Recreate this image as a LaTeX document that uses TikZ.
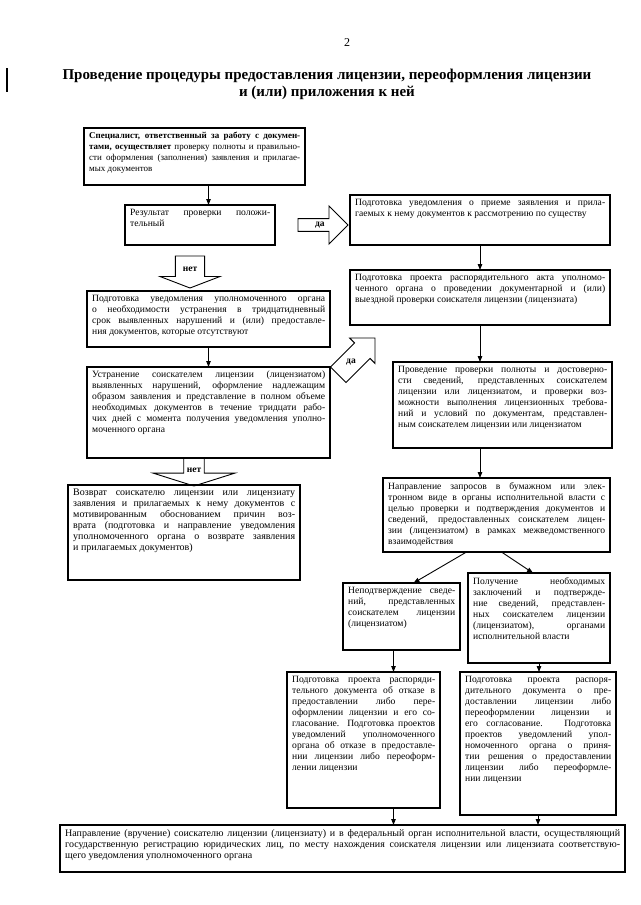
\documentclass[tikz,border=0pt]{standalone}
\usepackage{fontspec}
\setmainfont{Liberation Serif}
\usetikzlibrary{arrows.meta,shapes.arrows}

% box with its text set from the top left corner
\newcommand{\procbox}[6]{%
  \pgfmathsetmacro{\boxtw}{#4-10}%
  \node[box, minimum width=#4, minimum height=#5, anchor=north west] (#1) at (#2,#3) {};
  \node[boxtext, text width=\boxtw pt, anchor=north west] (#1t) at ([shift={(5,4)}]#1.north west) {#6};
}
\newcommand{\boxsmall}{\fontsize{9}{10.6}\selectfont}
\newcommand{\boxlarge}{\fontsize{10}{11.2}\selectfont}

\tikzset{%
  box/.style      = {draw, line width=1.1pt, rectangle, inner sep=0pt, outer sep=0pt},
  boxtext/.style  = {align=justify, inner sep=0pt, font=\fontsize{9.6}{11}\selectfont},
  bigarrow/.style = {single arrow, draw, line width=0.9pt, inner sep=1pt, outer sep=0pt,
                     font=\fontsize{9.5}{10}\selectfont\bfseries},
  bigline/.style  = {draw, line width=0.9pt, line join=miter},
  flow/.style     = {line width=0.9pt, -{Triangle[length=6pt,width=4.5pt]}}
}

\begin{document}
\begin{tikzpicture}[x=1pt, y=-1pt]
\fill[white] (0,0) rectangle (640,905);
\useasboundingbox (0,0) rectangle (640,905);

% Heading
\node[font=\fontsize{12}{14}\selectfont] (pagenum) at (347,43) {2};
\node[align=center, font=\fontsize{15}{17}\selectfont\bfseries] (title) at (327,84)
  {Проведение процедуры предоставления лицензии, переоформления лицензии\\и (или) приложения к ней};
\draw[line width=1.4pt] (7,68) -- (7,92);

% Left column
\procbox{check}{84}{128}{221}{57}{\boxsmall\textbf{Специалист, ответственный за работу с докумен-\linebreak
  тами, осуществляет} проверку полноты и правильно-\linebreak
  сти оформления (заполнения) заявления и прилагае-\linebreak
  мых документов}
\procbox{result}{125}{205}{150}{40}{Результат проверки положи-\linebreak тельный}
\procbox{notice}{87}{291}{243}{56}{Подготовка уведомления уполномоченного органа\linebreak
  о необходимости устранения в тридцатидневный\linebreak
  срок выявленных нарушений и (или) предоставле-\linebreak
  ния документов, которые отсутствуют}
\procbox{fix}{87}{367}{243}{91}{Устранение соискателем лицензии (лицензиатом)\linebreak
  выявленных нарушений, оформление надлежащим\linebreak
  образом заявления и представление в полном объеме\linebreak
  необходимых документов в течение тридцати рабо-\linebreak
  чих дней с момента получения уведомления уполно-\linebreak
  моченного органа}
\procbox{back}{68}{485}{232}{95}{\boxlarge Возврат соискателю лицензии или лицензиату\linebreak
  заявления и прилагаемых к нему документов с\linebreak
  мотивированным обоснованием причин воз-\linebreak
  врата (подготовка и направление уведомления\linebreak
  уполномоченного органа о возврате заявления\linebreak
  и прилагаемых документов)}

% Right column
\procbox{accept}{350}{195}{260}{50}{Подготовка уведомления о приеме заявления и прила-\linebreak
  гаемых к нему документов к рассмотрению по существу}
\procbox{order}{350}{270}{260}{55}{Подготовка проекта распорядительного акта уполномо-\linebreak
  ченного органа о проведении документарной и (или)\linebreak
  выездной проверки соискателя лицензии (лицензиата)}
\procbox{verify}{393}{362}{219}{86}{Проведение проверки полноты и достоверно-\linebreak
  сти сведений, представленных соискателем\linebreak
  лицензии или лицензиатом, и проверки воз-\linebreak
  можности выполнения лицензионных требова-\linebreak
  ний и условий по документам, представлен-\linebreak
  ным соискателем лицензии или лицензиатом}
\procbox{query}{383}{478}{227}{74}{Направление запросов в бумажном или элек-\linebreak
  тронном виде в органы исполнительной власти с\linebreak
  целью проверки и подтверждения документов и\linebreak
  сведений, предоставленных соискателем лицен-\linebreak
  зии (лицензиатом) в рамках межведомственного\linebreak
  взаимодействия}
\procbox{nconf}{343}{583}{117}{67}{Неподтверждение сведе-\linebreak
  ний, представленных\linebreak
  соискателем лицензии\linebreak
  (лицензиатом)}
\procbox{conf}{468}{573}{142}{90}{Получение необходимых\linebreak
  заключений и подтвержде-\linebreak
  ние сведений, представлен-\linebreak
  ных соискателем лицензии\linebreak
  (лицензиатом), органами\linebreak
  исполнительной власти}
\procbox{refuse}{287}{672}{153}{136}{Подготовка проекта распоряди-\linebreak
  тельного документа об отказе в\linebreak
  предоставлении либо пере-\linebreak
  оформлении лицензии и его со-\linebreak
  гласование. Подготовка проектов\linebreak
  уведомлений уполномоченного\linebreak
  органа об отказе в предоставле-\linebreak
  нии лицензии либо переоформ-\linebreak
  лении лицензии}
\procbox{grant}{460}{672}{156}{143}{Подготовка проекта распоря-\linebreak
  дительного документа о пре-\linebreak
  доставлении лицензии либо\linebreak
  переоформлении лицензии и\linebreak
  его согласование. Подготовка\linebreak
  проектов уведомлений упол-\linebreak
  номоченного органа о приня-\linebreak
  тии решения о предоставлении\linebreak
  лицензии либо переоформле-\linebreak
  нии лицензии}
\procbox{send}{60}{825}{565}{47}{\boxlarge Направление (вручение) соискателю лицензии (лицензиату) и в федеральный орган исполнительной власти, осуществляющий\linebreak
  государственную регистрацию юридических лиц, по месту нахождения соискателя лицензии или лицензиата соответствую-\linebreak
  щего уведомления уполномоченного органа}

% Block arrows
\node[bigarrow, anchor=tail, minimum height=50, minimum width=38,
  single arrow head extend=9] (yes1) at (298,225) {да};
\node[bigarrow, anchor=tail, shape border rotate=270, minimum height=32, minimum width=60,
  single arrow head extend=9, single arrow tip angle=138] (no1) at (190,256) {нет};
\node[inner sep=1pt, font=\fontsize{9.5}{10}\selectfont\bfseries] (yes2) at (351,362) {да};
\draw[bigline, shift={(yes2.center)}, rotate=45]
  (-18,-11) -- (16,-11) -- (16,-18) -- (34,0) -- (16,18) -- (16,11) -- (-18,11) -- cycle;
\node[bigarrow, anchor=tail, shape border rotate=270, minimum height=28, minimum width=82,
  single arrow head extend=26, single arrow tip angle=145] (no2) at (194,458) {нет};

% Connectors
\draw[flow] ([xshift=14pt]check.south) -- ([xshift=14pt]check.south |- result.north);
\draw[flow] (notice.south) -- (notice.south |- fix.north);
\draw[flow] (accept.south) -- (order.north);
\draw[flow] (order.south) -- (order.south |- verify.north);
\draw[flow] (order.south |- verify.south) -- (order.south |- query.north);
\draw[flow] ([xshift=-30pt]query.south) -- ([xshift=12pt]nconf.north);
\draw[flow] ([xshift=5pt]query.south) -- ([xshift=-6pt]conf.north);
\draw[flow] ([xshift=-8pt]nconf.south) -- ([xshift=-8pt]nconf.south |- refuse.north);
\draw[flow] (conf.south) -- (conf.south |- grant.north);
\draw[flow] ([xshift=30pt]refuse.south) -- ([xshift=30pt]refuse.south |- send.north);
\draw[flow] (grant.south) -- (grant.south |- send.north);

\end{tikzpicture}
\end{document}
